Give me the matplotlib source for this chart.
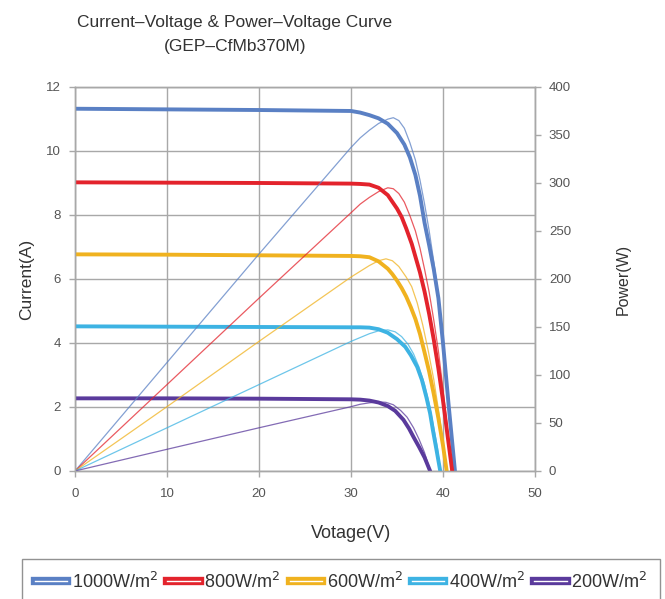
import matplotlib.pyplot as plt
from matplotlib.lines import Line2D
import matplotlib.patheffects as pe

plt.rcParams['font.family'] = ['Liberation Sans', 'DejaVu Sans']

labels = ['1000W/m$^2$', '800W/m$^2$', '600W/m$^2$', '400W/m$^2$', '200W/m$^2$']
colors = ['#5a80c4', '#e3232c', '#f0b21f', '#3db3e3', '#5a3a9c']

# I-V curves
v_1000 = [0, 10, 20, 30, 31, 32, 33, 34, 35, 35.8, 36.4, 37, 37.5, 38, 38.5, 39, 39.5, 40, 40.6, 41.3]
i_1000 = [11.32, 11.3, 11.28, 11.25, 11.2, 11.12, 11.02, 10.85, 10.56, 10.2, 9.8, 9.25, 8.6, 7.75,
          7.05, 6.3, 5.4, 4.0, 2.1, 0]
v_800 = [0, 10, 20, 30, 31, 32, 33, 34, 35, 35.5, 36, 36.6, 37, 37.5, 38, 38.5, 39, 39.5, 40, 40.5, 41]
i_800 = [9.02, 9.01, 9.0, 8.98, 8.97, 8.95, 8.85, 8.62, 8.2, 7.94, 7.58, 7.1, 6.7, 6.2, 5.6, 4.9,
         4.1, 3.2, 2.2, 1.1, 0]
v_600 = [0, 10, 20, 30, 31, 32, 33, 34, 34.5, 35, 35.5, 36, 36.5, 37, 37.5, 38, 38.5, 39, 39.5, 40, 40.4]
i_600 = [6.77, 6.76, 6.74, 6.72, 6.71, 6.68, 6.55, 6.32, 6.15, 5.95, 5.72, 5.45, 5.12, 4.75, 4.28,
         3.7, 3.1, 2.4, 1.65, 0.8, 0]
v_400 = [0, 10, 20, 30, 31, 32, 33, 34, 35, 35.9, 36.5, 37.2, 37.7, 38.2, 38.6, 38.9, 39.3, 39.7]
i_400 = [4.52, 4.51, 4.5, 4.49, 4.49, 4.48, 4.43, 4.32, 4.12, 3.88, 3.62, 3.25, 2.85, 2.3, 1.8,
         1.28, 0.65, 0]
v_200 = [0, 10, 20, 30, 31, 32, 33, 34, 34.8, 35.7, 36.3, 36.8, 37.4, 38, 38.6]
i_200 = [2.27, 2.27, 2.26, 2.24, 2.23, 2.2, 2.14, 2.03, 1.88, 1.6, 1.33, 1.06, 0.75, 0.42, 0]

# P-V curves
pv_1000 = [0, 10, 20, 30, 31, 32, 33, 34, 34.6, 35.2, 35.8, 36.4, 37, 37.5, 38, 38.5, 39, 39.5, 40,
           40.6, 41.3]
p_1000 = [0, 113, 226, 337, 347, 355, 362, 366.5, 368, 365, 357, 342, 324, 303, 278, 250, 218, 182,
          135, 70, 0]
pv_800 = [0, 10, 20, 30, 31, 32, 33, 34, 34.6, 35.2, 35.8, 36.4, 37, 37.5, 38, 38.5, 39, 39.5, 40,
          40.5, 41]
p_800 = [0, 90, 180, 269, 278, 285, 291, 295, 294, 289, 280, 266, 250, 232, 210, 186, 157, 125, 85,
         43, 0]
pv_600 = [0, 10, 20, 30, 31, 32, 33, 33.8, 34.5, 35.2, 36, 36.6, 37.2, 37.8, 38.4, 39, 39.6, 40.4]
p_600 = [0, 67, 135, 202, 208, 214, 219, 221, 219, 213, 202, 192, 175, 152, 125, 95, 58, 0]
pv_400 = [0, 10, 20, 30, 31, 32, 33, 34, 34.8, 35.5, 36.2, 36.8, 37.4, 38, 38.5, 39, 39.4, 39.7]
p_400 = [0, 45, 90, 135, 139, 143, 146, 147, 145, 140, 132, 122, 108, 90, 70, 45, 24, 0]
pv_200 = [0, 10, 20, 30, 31, 32, 33, 33.8, 34.6, 35.4, 36.1, 36.8, 37.4, 38, 38.6]
p_200 = [0, 22.6, 45, 67, 69.5, 71, 72, 71.5, 69, 63, 56, 45, 33, 19, 0]

iv = [(v_1000, i_1000), (v_800, i_800), (v_600, i_600), (v_400, i_400), (v_200, i_200)]
pv = [(pv_1000, p_1000), (pv_800, p_800), (pv_600, p_600), (pv_400, p_400), (pv_200, p_200)]

fig = plt.figure(figsize=(6.65, 5.99), dpi=100)
ax = fig.add_axes([0.1128, 0.2137, 0.6917, 0.6411])
ax2 = ax.twinx()

gray = '#a8a8a8'
txt = '#555555'

for (v, i), c in zip(iv, colors):
    ax.plot(v, i, color=c, lw=2.8, solid_capstyle='round', solid_joinstyle='round', zorder=3)
for (v, p), c in zip(pv, colors):
    ax2.plot(v, p, color=c, lw=0.9, alpha=0.75, zorder=2)

ax.set_xlim(0, 50)
ax.set_ylim(0, 12)
ax2.set_ylim(0, 400)
ax.set_xticks(range(0, 51, 10))
ax.set_yticks(range(0, 13, 2))
ax2.set_yticks(range(0, 401, 50))
ax.grid(True, color=gray, lw=1)
ax.set_axisbelow(True)

for a in (ax, ax2):
    for s in a.spines.values():
        s.set_color(gray)
        s.set_linewidth(1)
    a.tick_params(colors=gray, labelcolor=txt, labelsize=9.5, length=4, width=1)
ax.tick_params(axis='x', pad=8)
ax.tick_params(axis='y', pad=6)
ax2.tick_params(axis='y', pad=6)

ax.set_ylabel('Current(A)', fontsize=12.5, color='#333333', labelpad=9)
ax2.set_ylabel('Power(W)', fontsize=11.5, color='#333333', labelpad=32)
fig.text(351 / 665, 1 - 533 / 599, 'Votage(V)', fontsize=13, color='#333333',
         ha='center', va='center')

fig.text(235 / 665, 1 - 22 / 599, 'Current\u2013Voltage & Power\u2013Voltage Curve',
         fontsize=12.5, color='#333333', ha='center', va='center')
fig.text(235 / 665, 1 - 46 / 599, '(GEP\u2013CfMb370M)',
         fontsize=12.5, color='#333333', ha='center', va='center')

handles = []
for c in colors:
    handles.append(Line2D([], [], color='white', lw=1.0,
                          path_effects=[pe.Stroke(linewidth=6, foreground=c), pe.Normal()]))
leg_top = 1 - 559 / 599
leg = fig.legend(handles, labels, loc='upper left',
                 bbox_to_anchor=(22 / 665, leg_top - 0.06, 638 / 665, 0.06),
                 mode='expand', ncol=5, fontsize=13, frameon=True, fancybox=False,
                 handlelength=1.8, handletextpad=0.25, columnspacing=0.2,
                 borderpad=0.7, borderaxespad=0)
leg.get_frame().set_edgecolor('#777777')
leg.get_frame().set_linewidth(1)
for t in leg.get_texts():
    t.set_color('#333333')

fig.savefig('out.png', dpi=100)
